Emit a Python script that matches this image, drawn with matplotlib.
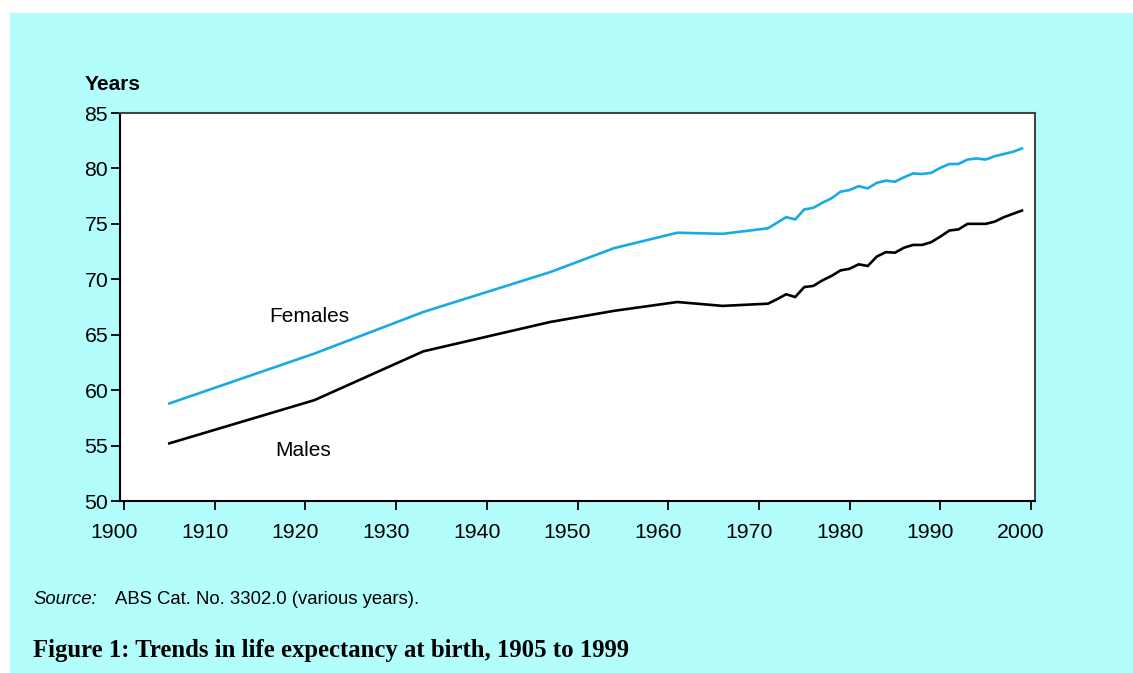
import matplotlib
matplotlib.use("Agg")
import matplotlib.pyplot as plt
import matplotlib.transforms as mtransforms
from matplotlib.patches import Rectangle

# life expectancy at birth (years)
years = [1905, 1921, 1933, 1947, 1954, 1961, 1966,
         1971, 1972, 1973, 1974, 1975, 1976, 1977, 1978, 1979, 1980,
         1981, 1982, 1983, 1984, 1985, 1986, 1987, 1988, 1989, 1990,
         1991, 1992, 1993, 1994, 1995, 1996, 1997, 1998, 1999]
females = [58.8, 63.3, 67.05, 70.65, 72.8, 74.2, 74.1,
           74.6, 75.1, 75.6, 75.4, 76.3, 76.45, 76.9, 77.3, 77.9, 78.05,
           78.4, 78.2, 78.7, 78.9, 78.8, 79.2, 79.55, 79.5, 79.6, 80.05,
           80.4, 80.4, 80.8, 80.9, 80.8, 81.1, 81.3, 81.5, 81.8]
males = [55.2, 59.1, 63.5, 66.15, 67.15, 67.95, 67.6,
         67.8, 68.2, 68.65, 68.4, 69.3, 69.4, 69.9, 70.3, 70.8, 70.95,
         71.35, 71.2, 72.05, 72.45, 72.4, 72.85, 73.1, 73.1, 73.35, 73.85,
         74.4, 74.5, 75.0, 75.0, 75.0, 75.2, 75.6, 75.9, 76.2]

x_ticks = list(range(1900, 2001, 10))
y_ticks = list(range(50, 86, 5))

plt.rcParams["font.family"] = ["Liberation Sans", "DejaVu Sans"]

fig = plt.figure(figsize=(11.33, 6.73), dpi=100)
fig.patch.set_facecolor("white")
# cyan panel behind everything
fig.patches.append(Rectangle((10 / 1133, 0), 1 - 10 / 1133, 1 - 13 / 673,
                             transform=fig.transFigure, color="#b3fdfd", zorder=-10))

ax = fig.add_axes([120 / 1133, 1 - 501 / 673, 915 / 1133, 388 / 673])
ax.set_facecolor("white")

ax.plot(years, females, color="#18a9e6", lw=1.9, solid_joinstyle="miter")
ax.plot(years, males, color="black", lw=1.9, solid_joinstyle="miter")

ax.set_xlim(1899.56, 2000.44)
ax.set_ylim(50, 85)
ax.set_xticks(x_ticks)
ax.set_yticks(y_ticks)
ax.tick_params(axis="both", labelsize=15.3, length=6.5, width=1.3, color="black")
ax.tick_params(axis="x", pad=9)
ax.tick_params(axis="y", pad=2)

# tick labels sit a little left of the tick marks in the original
offset = mtransforms.ScaledTranslation(-10 / 100, 0, fig.dpi_scale_trans)
for lbl in ax.get_xticklabels():
    lbl.set_transform(lbl.get_transform() + offset)

for side in ["left", "bottom"]:
    ax.spines[side].set_color("black")
    ax.spines[side].set_linewidth(1.5)
for side in ["top", "right"]:
    ax.spines[side].set_color("#444444")
    ax.spines[side].set_linewidth(1.5)

ax.text(1920.4, 66.6, "Females", fontsize=15, ha="center", va="center")
ax.text(1919.7, 54.6, "Males", fontsize=15, ha="center", va="center")

fig.text(85 / 1133, 1 - 84.5 / 673, "Years", fontsize=15, fontweight="bold",
         ha="left", va="center")

fig.text(33 / 1133, 1 - 600 / 673, "Source:", fontsize=13.3, style="italic",
         ha="left", va="center")
fig.text(115 / 1133, 1 - 600 / 673, "ABS Cat. No. 3302.0 (various years).",
         fontsize=13.3, ha="left", va="center")

fig.text(33 / 1133, 1 - 657 / 673,
         "Figure 1: Trends in life expectancy at birth, 1905 to 1999",
         fontsize=17.8, fontweight="bold", family=["Liberation Serif", "DejaVu Serif"],
         ha="left", va="baseline")

fig.savefig("out.png", dpi=100, facecolor=fig.get_facecolor())
